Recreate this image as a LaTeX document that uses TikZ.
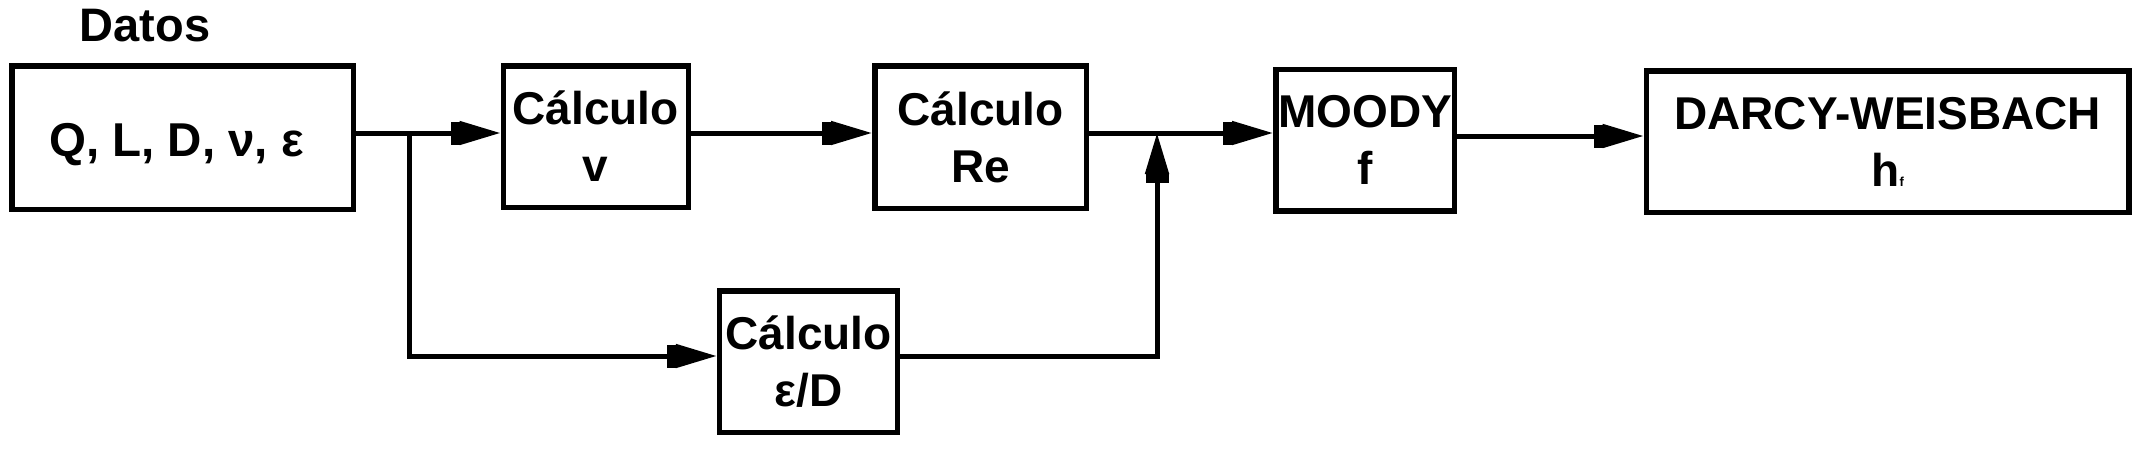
\documentclass[tikz,border=0pt]{standalone}
\usepackage{fontspec}
\setmainfont{Liberation Sans}
\usetikzlibrary{arrows.meta}
\begin{document}
\begin{tikzpicture}[x=1pt,y=-1pt,
  txt/.style={font=\bfseries\fontsize{46}{57}\selectfont},
  box/.style={txt, draw, line width=5.5pt, inner sep=0pt, align=center},
  arr/.style={line width=5pt, -{Rectangle[length=9pt,width=23pt,sep=0pt]Triangle[length=41pt,width=23pt]}}]
\fill[white] (0,0) rectangle (2148,456);
\useasboundingbox (0,0) rectangle (2148,456);
% nodes
\node[txt, font=\bfseries\fontsize{47}{57}\selectfont, anchor=base] (lbl) at (145,41) {Datos};
\node[box, font=\bfseries\fontsize{47.5}{57}\selectfont, minimum width=341.5pt, minimum height=143.5pt] (datos) at (182.5,137.5)
  {\raisebox{-7pt}[\height][\depth]{Q, L, D, ν, ε}\hspace*{12pt}};
\node[box, minimum width=185pt, minimum height=141.5pt] (cv) at (595.75,136.5) {Cálculo\\v};
\node[box, minimum width=211.5pt, minimum height=142.5pt] (re) at (980.5,137) {Cálculo\\Re};
\node[box, minimum width=178.5pt, minimum height=141.5pt] (moody) at (1365,140) {MOODY\\f};
\node[box, minimum width=482.7pt, minimum height=141.5pt] (darcy) at (1887.7,141.5) {DARCY-WEISBACH\\h{\fontsize{13}{13}\selectfont f}};
\node[box, minimum width=178pt, minimum height=141.5pt] (ed) at (808.5,361.5) {Cálculo\\ε/D};
% helper coordinates
\coordinate (L) at (0,133);
\coordinate (E) at (0,356);
\coordinate (M) at (0,136);
\coordinate (B) at (409,0);
\coordinate (J) at (1157,0);
% connectors
\draw[arr] (datos.east |- L) -- (cv.west |- L);
\draw[arr] (B |- L) -- (B |- E) -- (ed.west |- E);
\draw[arr] (cv.east |- L) -- (re.west |- L);
\draw[arr] (re.east |- L) -- (moody.west |- L);
\draw[arr] (ed.east |- E) -- (J |- E) -- (J |- L);
\draw[arr] (moody.east |- M) -- (darcy.west |- M);
\end{tikzpicture}
\end{document}
